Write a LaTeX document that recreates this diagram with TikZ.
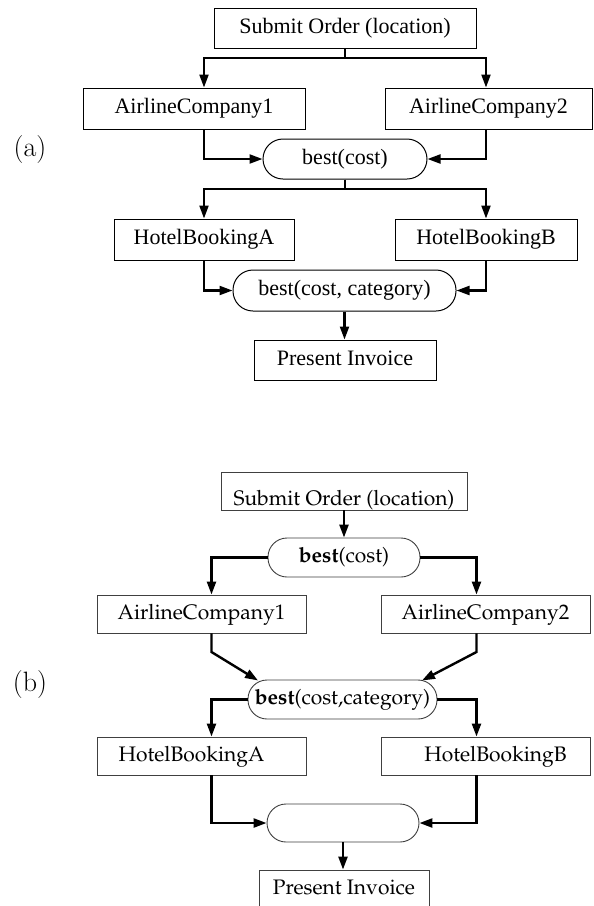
\documentclass[tikz,border=0pt]{standalone}
\usepackage[T1]{fontenc}
\usepackage{fontspec}
\usetikzlibrary{arrows.meta}
\newfontfamily\timesf{Liberation Serif}
\newcommand\palf{\fontencoding{T1}\fontfamily{ppl}\selectfont}
\tikzset{
  abox/.style={draw, line width=1pt, inner sep=0pt, font={\timesf\fontsize{22}{26}\selectfont}, text height=15pt, text depth=5pt},
  apill/.style={abox, rounded corners=20pt},
  bbox/.style={draw=black!75, line width=0.9pt, inner sep=0pt, font={\palf\fontsize{21}{25}\selectfont}, text height=15pt, text depth=5pt},
  bpill/.style={bbox, rounded corners=19pt},
  tipstyle/.style={-{Triangle[length=13pt,width=9pt]}},
  aconn/.style={line width=2.2pt, tipstyle},
  bconn/.style={line width=2.4pt, tipstyle},
  plabel/.style={font={\fontsize{28}{32}\selectfont}, inner sep=0pt}
}
\begin{document}
\begin{tikzpicture}[x=1pt,y=-1pt]
\fill[white] (0,0) rectangle (594,906);
\useasboundingbox (0,0) rectangle (594,906);

% ---------- (a) ----------
\node[abox, minimum width=262pt, minimum height=40pt] (soa) at (345,28) {Submit Order (location)};
\node[abox, minimum width=222pt, minimum height=41pt] (ac1a) at (194,108.5) {AirlineCompany1};
\node[abox, minimum width=207pt, minimum height=41pt] (ac2a) at (488.5,108.5) {AirlineCompany2};
\node[apill, minimum width=164pt, minimum height=40pt] (besta) at (345,159) {best(cost)};
\node[abox, minimum width=180pt, minimum height=41pt] (hbaa) at (204,239.5) {HotelBookingA};
\node[abox, minimum width=182pt, minimum height=41pt] (hbba) at (486,239.5) {HotelBookingB};
\node[apill, minimum width=223pt, minimum height=41pt] (best2a) at (344.5,290.5) {best(cost, category)};
\node[abox, minimum width=182pt, minimum height=40pt] (pia) at (345,360) {Present Invoice};
\node[plabel] (la) at (30,150) {(a)};

\coordinate (fal) at (204,58);
\coordinate (far) at (486,58);
\coordinate (gal) at (204,189);
\coordinate (gar) at (486,189);

\draw[aconn] (soa.south) |- (fal) -- (fal |- ac1a.north);
\draw[aconn] (soa.south) |- (far) -- (far |- ac2a.north);
\draw[aconn] (ac1a.south -| fal) |- (besta.west);
\draw[aconn] (ac2a.south -| far) |- (besta.east);
\draw[aconn] (besta.south) |- (gal) -- (gal |- hbaa.north);
\draw[aconn] (besta.south) |- (gar) -- (gar |- hbba.north);
\draw[aconn] (hbaa.south -| gal) |- (best2a.west);
\draw[aconn] (hbba.south -| gar) |- (best2a.east);
\draw[aconn] (best2a.south) -- (best2a.south |- pia.north);

% ---------- (b) ----------
\node[bbox, minimum width=246pt, minimum height=38pt, text height=30pt, text depth=2pt] (sob) at (344,491) {Submit Order (location)};
\node[bpill, minimum width=152pt, minimum height=39pt] (bestb) at (344,557.5) {\textbf{best}(cost)};
\node[bbox, minimum width=209pt, minimum height=38pt] (ac1b) at (201.5,614) {AirlineCompany1};
\node[bbox, minimum width=209pt, minimum height=38pt] (ac2b) at (485.5,614) {AirlineCompany2};
\node[bpill, minimum width=189pt, minimum height=39pt] (best2b) at (342.5,699.5) {\textbf{best}(cost,category)};
\node[bbox, minimum width=209pt, minimum height=38pt] (hbab) at (201.5,756) {\hspace*{-20pt}HotelBookingA};
\node[bbox, minimum width=209pt, minimum height=38pt] (hbbb) at (485.5,756) {HotelBookingB\hspace*{-20pt}};
\node[bpill, minimum width=152pt, minimum height=38pt] (emptyb) at (343,823) {};
\node[bbox, minimum width=170pt, minimum height=38pt] (pib) at (344,889) {Present Invoice};
\node[plabel] (lb) at (30,685) {(b)};

\coordinate (colL) at (211.5,0);
\coordinate (colR) at (476.5,0);
\coordinate (kinkL) at (211.5,652);
\coordinate (kinkR) at (476.5,652);
\coordinate (tipL) at (258,680.5);
\coordinate (tipR) at (422,680.5);

\draw[bconn] (sob.south) -- (sob.south |- bestb.north);
\draw[bconn] (bestb.west) -| (colL |- ac1b.north);
\draw[bconn] (bestb.east) -| (colR |- ac2b.north);
\draw[bconn] (colL |- ac1b.south) -- (kinkL) -- (tipL);
\draw[bconn] (colR |- ac2b.south) -- (kinkR) -- (tipR);
\draw[bconn] (best2b.west) -| (colL |- hbab.north);
\draw[bconn] (best2b.east) -| (colR |- hbbb.north);
\draw[bconn] (colL |- hbab.south) |- (emptyb.west);
\draw[bconn] (colR |- hbbb.south) |- (emptyb.east);
\draw[bconn] (emptyb.south) -- (emptyb.south |- pib.north);
\end{tikzpicture}
\end{document}
